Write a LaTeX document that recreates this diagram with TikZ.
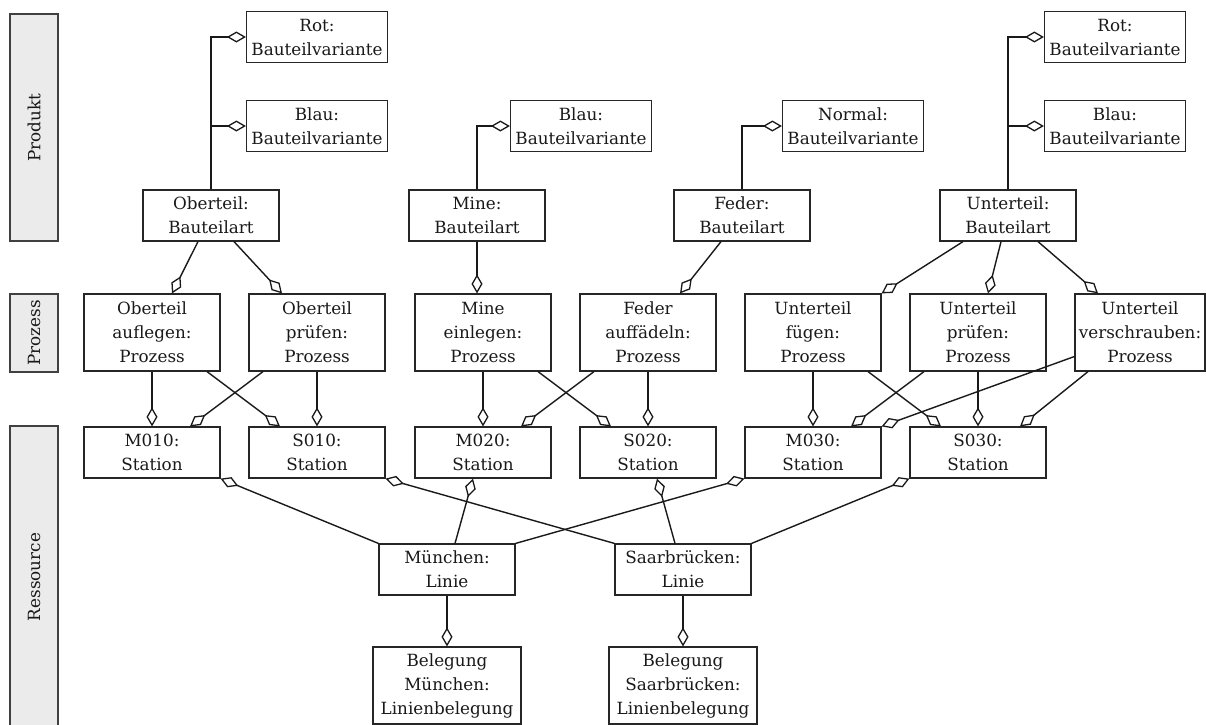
\documentclass[tikz,border=0pt]{standalone}
\usepackage{fontspec}
\setmainfont{DejaVu Serif}
\usetikzlibrary{arrows.meta}

\begin{document}
\begin{tikzpicture}[x=1pt, y=-1pt,
  box/.style={draw=black!85, line width=1.2pt, fill=white, align=center,
    inner sep=0pt, text=black!90, font=\fontsize{16.8}{24}\selectfont},
  variant/.style={box, minimum width=141pt, minimum height=51pt},
  kind/.style={box, minimum width=136pt, minimum height=51pt},
  proc/.style={box, minimum width=136pt, minimum height=77pt},
  station/.style={box, minimum width=136pt, minimum height=51pt},
  line/.style={box, minimum width=136pt, minimum height=51pt},
  alloc/.style={box, minimum width=148pt, minimum height=77pt},
  layer/.style={draw=black!75, line width=1.2pt, fill=black!8, rotate=90,
    inner sep=0pt, minimum height=48pt, text=black!90,
    font=\fontsize{16.8}{24}\selectfont},
  link/.style={draw=black!90, line width=1.4pt,
    -{Diamond[open, length=19pt, width=11pt, line width=1.3pt]}}
]
\useasboundingbox (0,0) rectangle (1206,724);
\clip (0,0) rectangle (1206,724);

% layer bars
\node[layer, minimum width=227pt] (lprod) at (34,127.5) {Produkt};
\node[layer, minimum width=78pt]  (lproz) at (34,333) {Prozess};
\node[layer, minimum width=302pt] (lres)  at (34,577) {Ressource};

% product variants
\node[variant] (rotL)  at (317,37)  {Rot:\\Bauteilvariante};
\node[variant] (blauL) at (317,126) {Blau:\\Bauteilvariante};
\node[variant] (blauM) at (581,126) {Blau:\\Bauteilvariante};
\node[variant] (normal) at (853,126) {Normal:\\Bauteilvariante};
\node[variant] (rotR)  at (1115,37)  {Rot:\\Bauteilvariante};
\node[variant] (blauR) at (1115,126) {Blau:\\Bauteilvariante};

% part kinds
\node[kind] (oberteil)  at (211,215.5)  {Oberteil:\\Bauteilart};
\node[kind] (mine)      at (477,215.5)  {Mine:\\Bauteilart};
\node[kind] (feder)     at (742,215.5)  {Feder:\\Bauteilart};
\node[kind] (unterteil) at (1008,215.5) {Unterteil:\\Bauteilart};

% processes
\node[proc] (oa) at (152,332.5) {Oberteil\\auflegen:\\Prozess};
\node[proc] (op) at (317,332.5) {Oberteil\\prüfen:\\Prozess};
\node[proc] (me) at (483,332.5) {Mine\\einlegen:\\Prozess};
\node[proc] (fa) at (648,332.5) {Feder\\auffädeln:\\Prozess};
\node[proc] (uf) at (813,332.5) {Unterteil\\fügen:\\Prozess};
\node[proc] (up) at (978,332.5) {Unterteil\\prüfen:\\Prozess};
\node[proc, minimum width=130pt] (uv) at (1140,332.5) {Unterteil\\verschrauben:\\Prozess};

% stations
\node[station] (m010) at (152,452.5) {M010:\\Station};
\node[station] (s010) at (317,452.5) {S010:\\Station};
\node[station] (m020) at (483,452.5) {M020:\\Station};
\node[station] (s020) at (648,452.5) {S020:\\Station};
\node[station] (m030) at (813,452.5) {M030:\\Station};
\node[station] (s030) at (978,452.5) {S030:\\Station};

% lines
\node[line] (muc)  at (447,569.5) {München:\\Linie};
\node[line] (saar) at (683,569.5) {Saarbrücken:\\Linie};

% line allocations
\node[alloc] (belM) at (447,685.5) {Belegung\\München:\\Linienbelegung};
\node[alloc] (belS) at (683,685.5) {Belegung\\Saarbrücken:\\Linienbelegung};

% kind -> variants
\draw[link] (oberteil.north) |- (rotL.west);
\draw[link] (oberteil.north) |- (blauL.west);
\draw[link] (mine.north) |- (blauM.west);
\draw[link] (feder.north) |- (normal.west);
\draw[link] (unterteil.north) |- (rotR.west);
\draw[link] (unterteil.north) |- (blauR.west);

% kind -> processes
\draw[link] ([xshift=-13pt]oberteil.south) -- ([xshift=20pt]oa.north);
\draw[link] ([xshift=23pt]oberteil.south) -- ([xshift=-35pt]op.north);
\draw[link] (mine.south) -- ([xshift=-6pt]me.north);
\draw[link] ([xshift=-21pt]feder.south) -- ([xshift=32pt]fa.north);
\draw[link] ([xshift=-45pt]unterteil.south) -- (uf.north east);
\draw[link] ([xshift=-7pt]unterteil.south) -- ([xshift=10pt]up.north);
\draw[link] ([xshift=30pt]unterteil.south) -- ([xshift=-42pt]uv.north);

% processes -> stations
\foreach \pa/\pb/\sm/\ss in {oa/op/m010/s010, me/fa/m020/s020, uf/up/m030/s030}{
  \draw[link] (\pa.south) -- (\sm.north);
  \draw[link] ([xshift=55pt]\pa.south) -- ([xshift=-37pt]\ss.north);
  \draw[link] ([xshift=-54pt]\pb.south) -- ([xshift=38pt]\sm.north);
  \draw[link] (\pb.south) -- (\ss.north);
}
\draw[link] ([yshift=-24pt]uv.west) -- (m030.north east);
\draw[link] ([xshift=-52pt]uv.south) -- ([xshift=42pt]s030.north);

% lines -> stations
\draw[link] (muc.north west) -- (m010.south east);
\draw[link] (saar.north west) -- (s010.south east);
\draw[link] ([xshift=8pt]muc.north) -- ([xshift=-10pt]m020.south);
\draw[link] ([xshift=-8pt]saar.north) -- ([xshift=9pt]s020.south);
\draw[link] (muc.north east) -- (m030.south west);
\draw[link] (saar.north east) -- (s030.south west);

% lines -> allocations
\draw[link] (muc.south) -- (belM.north);
\draw[link] (saar.south) -- (belS.north);
\end{tikzpicture}
\end{document}
